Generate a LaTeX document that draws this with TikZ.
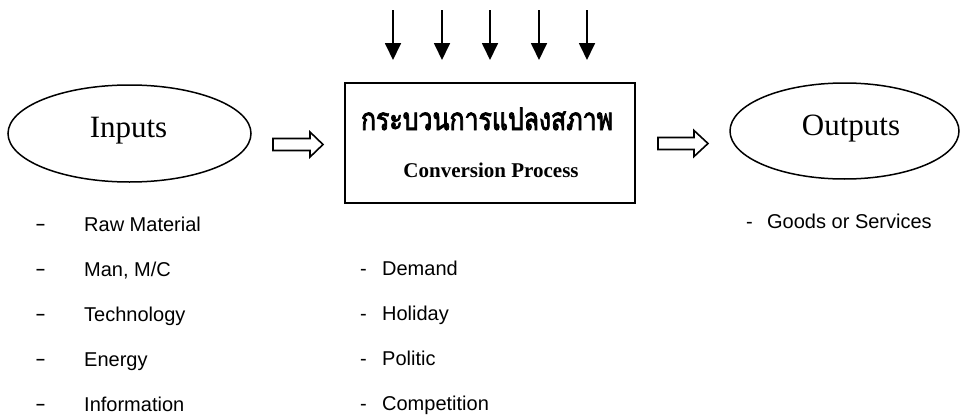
\documentclass[tikz,border=0pt]{standalone}
\usepackage{fontspec}
\setmainfont{Liberation Serif}
\setsansfont{Liberation Sans}
\newfontfamily\thaifont[Script=Thai,FakeBold=3]{Loma}
\usetikzlibrary{arrows.meta,shapes.geometric}
\begin{document}
\begin{tikzpicture}[x=1pt,y=-1pt,
  oval/.style={draw,line width=1.5pt,ellipse,inner sep=0pt},
  procbox/.style={draw,line width=2.4pt,rectangle,inner sep=0pt},
  bigword/.style={anchor=base,inner sep=0pt,font=\fontsize{31}{31}\selectfont},
  listitem/.style={anchor=base west,inner sep=0pt,font=\sffamily\fontsize{20}{20}\selectfont},
  downarrow/.style={line width=1.8pt,-{Triangle[length=17pt,width=16pt]}},
  hollow/.style={draw,line width=1.6pt,fill=white,line join=miter}
]
\useasboundingbox (0,0) rectangle (961,415);
% ellipses
\node[oval,minimum width=243pt,minimum height=97pt] (inE) at (129.5,133.5) {};
\node[oval,minimum width=229pt,minimum height=96pt] (outE) at (844.5,131) {};
\node[bigword] (inT) at (128.5,137) {Inputs};
\node[bigword] (outT) at (851,135) {Outputs};
% box
\node[procbox,minimum width=290pt,minimum height=120pt] (box) at (490,143) {};
\node[anchor=base,inner sep=0pt] (thai) at (487,130)
  {\scalebox{1}[1.25]{\resizebox{252pt}{!}{\thaifont\fontsize{28}{28}\selectfont กระบวนการแปลงสภาพ}}};
\node[anchor=base,inner sep=0pt,font=\bfseries\fontsize{21}{21}\selectfont] (conv) at (491,177) {Conversion Process};
% down arrows
\foreach \i/\x in {1/393,2/442,3/490,4/539,5/587}{
  \coordinate (t\i) at (\x,10);
  \coordinate (h\i) at (\x,60);
  \draw[downarrow] (t\i) -- (h\i);
}
% hollow arrows
\coordinate (la) at (273,144.5);
\draw[hollow] (la) ++(0,-6) -- ++(37,0) -- ++(0,-6.5) -- ++(13,12.5) -- ++(-13,12.5) -- ++(0,-6.5) -- ++(-37,0) -- cycle;
\coordinate (ra) at (658,143.5);
\draw[hollow] (ra) ++(0,-6) -- ++(36,0) -- ++(0,-7) -- ++(14,13) -- ++(-14,13) -- ++(0,-7) -- ++(-36,0) -- cycle;
% input list
\foreach \n/\y/\t in {i1/231/Raw Material,i2/276/{Man, M/C},i3/321/Technology,i4/366/Energy,i5/411/Information}{
  \node[listitem] (\n) at (36,\y) {\hbox to 48pt{\raisebox{1.5pt}{\bfseries\fontsize{16}{16}\selectfont –}\hss}\t};
}
% external factors
\foreach \n/\y/\t in {f1/275/Demand,f2/320/Holiday,f3/365/Politic,f4/410/Competition}{
  \node[listitem] (\n) at (360,\y) {\hbox to 22pt{-\hss}\t};
}
% output list
\node[listitem] (o1) at (746,228) {\hbox to 21pt{-\hss}Goods or Services};
\end{tikzpicture}
\end{document}
